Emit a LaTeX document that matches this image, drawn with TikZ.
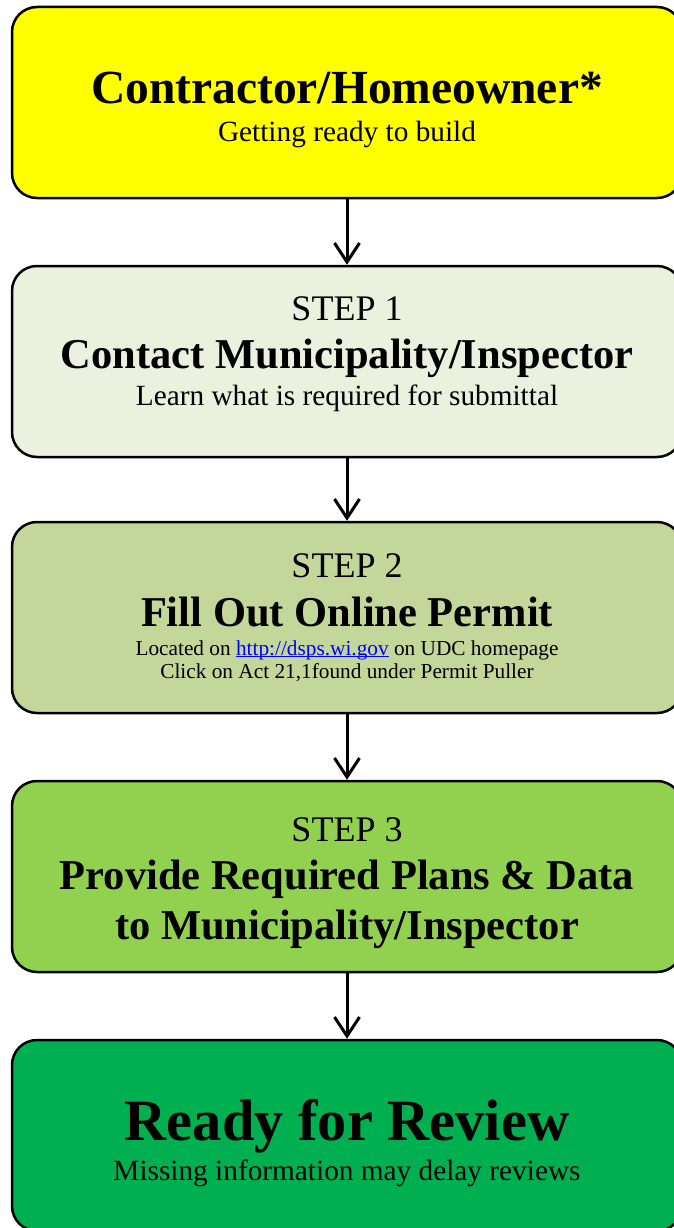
\documentclass[tikz,border=0pt]{standalone}
\usepackage{fontspec}
\setmainfont{Liberation Serif}
\usetikzlibrary{arrows.meta}
\definecolor{cyellow}{HTML}{FFFF00}
\definecolor{cpale}{HTML}{EBF1DE}
\definecolor{colive}{HTML}{C4D79B}
\definecolor{clime}{HTML}{92D050}
\definecolor{cgreen}{HTML}{00B050}
\definecolor{clink}{HTML}{0000FF}
\newcommand\myuline[1]{\setbox0\hbox{#1}\rlap{\rule[-0.1em]{\wd0}{0.055em}}\box0}
\tikzset{
  box/.style={draw=black, line width=2.5pt, rounded corners=25pt,
    minimum width=670pt, minimum height=191pt, inner sep=0pt},
  txt/.style={anchor=base, inner sep=0pt},
  bigtitle/.style={txt, font=\fontsize{47.5}{54}\selectfont\bfseries},
  title/.style={txt, font=\fontsize{42.5}{50}\selectfont\bfseries},
  huge/.style={txt, font=\fontsize{58.4}{66}\selectfont\bfseries},
  steplbl/.style={txt, font=\fontsize{36}{42}\selectfont},
  sub/.style={txt, font=\fontsize{29.3}{34}\selectfont},
  small/.style={txt, font=\fontsize{21.3}{25}\selectfont},
  arr/.style={line width=3pt, -{Straight Barb[length=19pt,width=25pt,line width=3pt]}}
}
\begin{document}
\begin{tikzpicture}[x=1pt,y=-1pt]
\useasboundingbox (0,0) rectangle (674,1228);
\fill[white] (0,0) rectangle (674,1228);
\clip (0,0) rectangle (674,1228);
% boxes
\node[box, fill=cyellow] (b1) at (347,102.5) {};
\node[box, fill=cpale]   (b2) at (347,361.5) {};
\node[box, fill=colive]  (b3) at (347,617.5) {};
\node[box, fill=clime]   (b4) at (347,876.5) {};
\node[box, fill=cgreen]  (b5) at (347,1135.5) {};
% arrows
\draw[arr] (b1.south) -- (b2.north);
\draw[arr] (b2.south) -- (b3.north);
\draw[arr] (b3.south) -- (b4.north);
\draw[arr] (b4.south) -- (b5.north);
% texts box 1
\node[bigtitle] (t1a) at (347,104) {Contractor/Homeowner*};
\node[sub] (t1b) at (347,141) {Getting ready to build};
% box 2
\node[steplbl] (t2a) at (347,320) {STEP 1};
\node[title] (t2b) at (347,368) {Contact Municipality/Inspector};
\node[sub] (t2c) at (347,405) {Learn what is required for submittal};
% box 3
\node[steplbl] (t3a) at (347,577) {STEP 2};
\node[title] (t3b) at (347,626) {Fill Out Online Permit};
\node[small] (t3c) at (347,655) {Located on \textcolor{clink}{\myuline{http://dsps.wi.gov}} on UDC homepage};
\node[small] (t3d) at (347,678) {Click on Act 21,1found under Permit Puller};
% box 4
\node[steplbl] (t4a) at (347,841) {STEP 3};
\node[title] (t4b) at (347,889) {Provide Required Plans \& Data};
\node[title] (t4c) at (347,939) {to Municipality/Inspector};
% box 5
\node[huge] (t5a) at (347,1140) {Ready for Review};
\node[sub] (t5b) at (347,1180) {Missing information may delay reviews};
\end{tikzpicture}
\end{document}
